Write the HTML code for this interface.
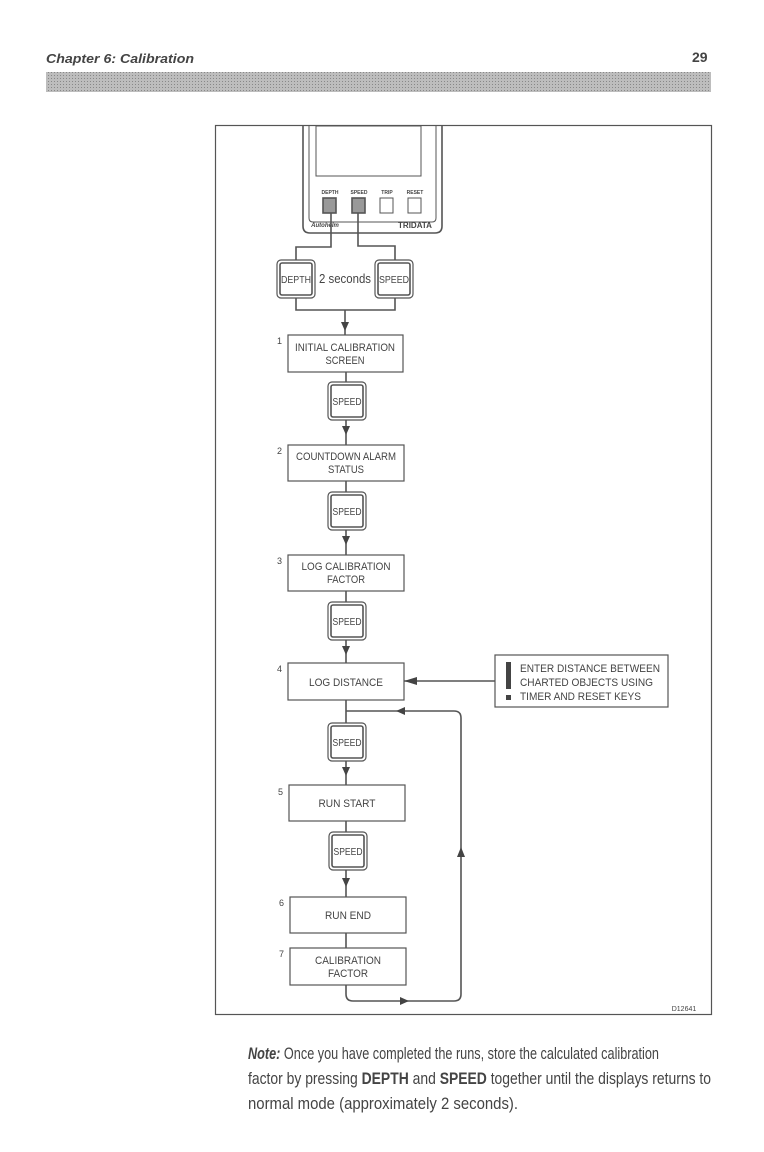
<!DOCTYPE html>
<html><head><meta charset="utf-8"><style>
html,body{margin:0;padding:0;background:#fff;}
svg{display:block;}
text{font-family:"Liberation Sans Narrow","Liberation Sans",sans-serif;fill:#444;}
</style></head><body>
<svg width="764" height="1152" viewBox="0 0 764 1152" xmlns="http://www.w3.org/2000/svg">
<defs>
<pattern id="dots" width="3" height="3" patternUnits="userSpaceOnUse"><rect width="3" height="3" fill="#bdbdbd"/><rect width="1" height="1" fill="#888"/></pattern>
<g id="key"><rect x="0" y="0" width="38" height="38" rx="4" fill="#fff" stroke="#555" stroke-width="1.2"/><rect x="3" y="3" width="32" height="32" rx="2" fill="#fff" stroke="#555" stroke-width="1.6"/></g>
</defs>
<text x="46" y="63" font-style="italic" font-weight="bold" font-size="13" fill="#333" textLength="148" lengthAdjust="spacingAndGlyphs" style="font-family:'Liberation Sans',sans-serif">Chapter 6: Calibration</text>
<text x="692" y="62" font-size="14" font-weight="bold" fill="#333" style="font-family:'Liberation Sans',sans-serif">29</text>
<rect x="46" y="72" width="665" height="20" fill="url(#dots)"/>

<rect x="215.5" y="125.5" width="496" height="889" fill="none" stroke="#555" stroke-width="1.2"/>

<g stroke="#555" fill="none" stroke-width="1.6">
<path d="M303 126 V226 Q303 233 310 233 H435 Q442 233 442 226 V126"/>
<path d="M309 126 V218 Q309 222 313 222 H432 Q436 222 436 218 V126" stroke-width="1"/>
<rect x="316" y="126" width="105" height="50" stroke-width="1"/>
<rect x="323" y="198" width="13" height="15" fill="#999"/>
<rect x="352" y="198" width="13" height="15" fill="#999"/>
<rect x="380" y="198" width="13" height="15" stroke-width="1"/>
<rect x="408" y="198" width="13" height="15" stroke-width="1"/>
<path d="M331 213 V247 H296 V262"/>
<path d="M358 213 V246 H395 V262"/>
<path d="M296 298 V310 H395 V298"/>
<path d="M345 310 V335"/>
<path d="M346 372 V382 M346 420 V445 M346 481 V492 M346 530 V555 M346 591 V602 M346 640 V663"/>
<path d="M346 700 V723 M346 761 V785 M346 821 V832 M346 870 V897 M346 933 V948"/>
<path d="M346 985 V994 Q346 1001 353 1001 H454 Q461 1001 461 994 V718 Q461 711 454 711 H346"/>
<path d="M495 681 H404"/>
<rect x="288" y="335" width="115" height="37" fill="#fff" stroke-width="1.2"/>
<rect x="288" y="445" width="116" height="36" fill="#fff" stroke-width="1.2"/>
<rect x="288" y="555" width="116" height="36" fill="#fff" stroke-width="1.2"/>
<rect x="288" y="663" width="116" height="37" fill="#fff" stroke-width="1.2"/>
<rect x="289" y="785" width="116" height="36" fill="#fff" stroke-width="1.2"/>
<rect x="290" y="897" width="116" height="36" fill="#fff" stroke-width="1.2"/>
<rect x="290" y="948" width="116" height="37" fill="#fff" stroke-width="1.2"/>
<rect x="495" y="655" width="173" height="52" fill="#fff" stroke-width="1.2"/>
</g>
<g fill="#444">
<path d="M341 322 L349 322 L345 331Z"/>
<path d="M342 426 L350 426 L346 435Z"/>
<path d="M342 536 L350 536 L346 545Z"/>
<path d="M342 646 L350 646 L346 655Z"/>
<path d="M342 767 L350 767 L346 776Z"/>
<path d="M342 878 L350 878 L346 887Z"/>
<path d="M404 681 L417 677 L417 685Z"/>
<path d="M396 711 L405 707 L405 715Z"/>
<path d="M457 857 L465 857 L461 847Z"/>
<path d="M409 1001 L400 997 L400 1005Z"/>
</g>
<use href="#key" x="277" y="260"/>
<use href="#key" x="375" y="260"/>
<use href="#key" x="328" y="382"/>
<use href="#key" x="328" y="492"/>
<use href="#key" x="328" y="602"/>
<use href="#key" x="328" y="723"/>
<use href="#key" x="329" y="832"/>
<g font-size="10" text-anchor="middle" lengthAdjust="spacingAndGlyphs">
<text x="296" y="283" textLength="30" lengthAdjust="spacingAndGlyphs">DEPTH</text><text x="394" y="283" textLength="30" lengthAdjust="spacingAndGlyphs">SPEED</text>
<text x="347" y="405" textLength="29" lengthAdjust="spacingAndGlyphs">SPEED</text><text x="347" y="515" textLength="29" lengthAdjust="spacingAndGlyphs">SPEED</text><text x="347" y="625" textLength="29" lengthAdjust="spacingAndGlyphs">SPEED</text>
<text x="347" y="746" textLength="29" lengthAdjust="spacingAndGlyphs">SPEED</text><text x="348" y="855" textLength="29" lengthAdjust="spacingAndGlyphs">SPEED</text>
</g>
<text x="345" y="283" font-size="13" text-anchor="middle" textLength="52" lengthAdjust="spacingAndGlyphs">2 seconds</text>
<g font-size="5" text-anchor="middle" font-weight="bold" fill="#555">
<text x="330" y="194">DEPTH</text><text x="359" y="194">SPEED</text><text x="387" y="194">TRIP</text><text x="415" y="194">RESET</text>
</g>
<text x="415" y="228" font-size="8" font-weight="bold" text-anchor="middle" fill="#555" style="font-family:'Liberation Sans',sans-serif">TRIDATA</text>
<text x="325" y="227" font-size="6" font-weight="bold" font-style="italic" text-anchor="middle" fill="#555">Autohelm</text>
<g font-size="11" text-anchor="middle">
<text x="345" y="351" textLength="100" lengthAdjust="spacingAndGlyphs">INITIAL CALIBRATION</text><text x="345" y="364" textLength="39" lengthAdjust="spacingAndGlyphs">SCREEN</text>
<text x="346" y="460" textLength="100" lengthAdjust="spacingAndGlyphs">COUNTDOWN ALARM</text><text x="346" y="473" textLength="36" lengthAdjust="spacingAndGlyphs">STATUS</text>
<text x="346" y="570" textLength="89" lengthAdjust="spacingAndGlyphs">LOG CALIBRATION</text><text x="346" y="583" textLength="38" lengthAdjust="spacingAndGlyphs">FACTOR</text>
<text x="346" y="686" textLength="74" lengthAdjust="spacingAndGlyphs">LOG DISTANCE</text>
<text x="347" y="807" textLength="57" lengthAdjust="spacingAndGlyphs">RUN START</text>
<text x="348" y="919" textLength="46" lengthAdjust="spacingAndGlyphs">RUN END</text>
<text x="348" y="964" textLength="66" lengthAdjust="spacingAndGlyphs">CALIBRATION</text><text x="348" y="977" textLength="40" lengthAdjust="spacingAndGlyphs">FACTOR</text>
</g>
<g font-size="9">
<text x="277" y="344">1</text><text x="277" y="454">2</text><text x="277" y="564">3</text><text x="277" y="672">4</text>
<text x="278" y="795">5</text><text x="279" y="906">6</text><text x="279" y="957">7</text>
</g>
<g font-size="11">
<text x="520" y="672" textLength="140" lengthAdjust="spacingAndGlyphs">ENTER DISTANCE BETWEEN</text>
<text x="520" y="686" textLength="133" lengthAdjust="spacingAndGlyphs">CHARTED OBJECTS USING</text>
<text x="520" y="700" textLength="121" lengthAdjust="spacingAndGlyphs">TIMER AND RESET KEYS</text>
</g>
<rect x="506" y="662" width="5" height="27" fill="#444"/>
<rect x="506" y="695" width="5" height="5" fill="#444"/>
<text x="684" y="1011" font-size="7" text-anchor="middle">D12641</text>
<g font-size="17" fill="#333">
<text x="248" y="1059" textLength="411" lengthAdjust="spacingAndGlyphs"><tspan font-weight="bold" font-style="italic">Note:</tspan> Once you have completed the runs, store the calculated calibration</text>
<text x="248" y="1084" textLength="463" lengthAdjust="spacingAndGlyphs">factor by pressing <tspan font-weight="bold">DEPTH</tspan> and <tspan font-weight="bold">SPEED</tspan> together until the displays returns to</text>
<text x="248" y="1109" textLength="270" lengthAdjust="spacingAndGlyphs">normal mode (approximately 2 seconds).</text>
</g>
</svg>
</body></html>
